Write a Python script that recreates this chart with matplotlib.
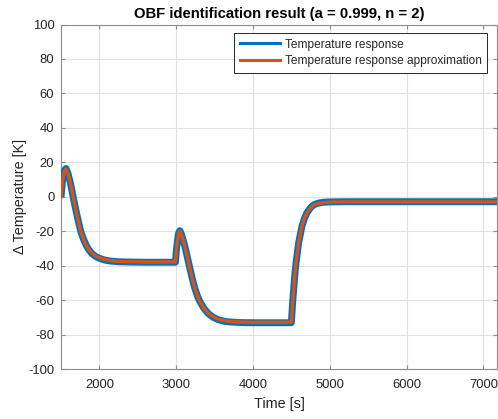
import matplotlib
matplotlib.use("Agg")
import matplotlib.pyplot as plt
from matplotlib.lines import Line2D

plt.rcParams['font.family'] = ['Liberation Sans', 'DejaVu Sans']
plt.rcParams['axes.unicode_minus'] = False

# Measured temperature response (time in s, delta temperature in K)
time_meas = [1500, 1520, 1540, 1565, 1590, 1621, 1664, 1700, 1730, 1760, 1795,
             1830, 1860, 1900, 1950, 1990, 2050, 2100, 2164, 2250, 2400, 2600,
             2990, 3000, 3015, 3030, 3047, 3065, 3090, 3112, 3140, 3177, 3210,
             3242, 3275, 3307, 3360, 3416, 3480, 3546, 3630, 3720, 3850, 4000,
             4499, 4515, 4529, 4545, 4560, 4594, 4638, 4670, 4703, 4750, 4789,
             4850, 4919, 5000, 5200, 7180]
temp_meas = [0.0, 9.5, 15.0, 16.5, 13.8, 8.4, -1.3, -9.0, -14.9, -20.5, -24.7,
             -28.2, -30.5, -32.8, -34.5, -35.4, -36.4, -36.9, -37.3, -37.6, -37.8, -37.9,
             -37.9, -32.0, -26.0, -21.3, -19.6, -21.3, -25.0, -28.5, -34.0, -41.2, -47.5,
             -52.9, -57.3, -60.6, -64.6, -67.6, -69.8, -71.2, -72.2, -72.6, -72.9, -73.0,
             -73.0, -62.0, -53.8, -45.0, -38.3, -26.6, -16.9, -12.5, -9.1, -6.2, -4.6,
             -3.6, -3.1, -2.9, -2.8, -2.8]

# Second-order OBF model approximation
time_model = [1500, 1520, 1540, 1565, 1590, 1621, 1664, 1700, 1730, 1760, 1795,
              1830, 1860, 1900, 1950, 1990, 2050, 2100, 2164, 2250, 2400, 2600,
              2990, 3000, 3015, 3030, 3047, 3065, 3090, 3112, 3140, 3177, 3210,
              3242, 3275, 3307, 3360, 3416, 3480, 3546, 3630, 3720, 3850, 4000,
              4499, 4515, 4529, 4545, 4560, 4594, 4638, 4670, 4703, 4750, 4789,
              4850, 4919, 5000, 5200, 7180]
temp_model = [0.0, 9.0, 14.5, 16.2, 13.5, 8.4, -1.3, -9.0, -14.9, -20.5, -24.7,
              -28.2, -30.5, -32.6, -34.2, -35.0, -36.0, -36.6, -37.0, -37.4, -37.6, -37.7,
              -37.7, -32.0, -26.0, -21.5, -19.8, -21.5, -25.0, -28.5, -34.0, -41.2, -47.5,
              -52.9, -57.3, -60.6, -64.6, -67.4, -69.5, -70.9, -71.8, -72.3, -72.6, -72.7,
              -72.7, -62.0, -53.8, -45.0, -38.3, -26.6, -16.9, -12.5, -9.1, -6.4, -4.8,
              -3.8, -3.3, -3.0, -2.9, -2.9]

series_labels = ["Temperature response", "Temperature response approximation"]
x_ticks = [2000, 3000, 4000, 5000, 6000, 7000]
y_ticks = list(range(-100, 101, 20))

blue = "#0072BD"
orange = "#D95319"
ink = "#262626"

fig = plt.figure(figsize=(4.98, 4.19), dpi=100)
ax = fig.add_axes([0.1225, 0.1186, 0.876, 0.8229])

ax.plot(time_meas, temp_meas, color=blue, lw=5.0, solid_joinstyle="round",
        solid_capstyle="butt", zorder=3)
ax.plot(time_model, temp_model, color=orange, lw=2.4, solid_joinstyle="round",
        zorder=4)

ax.set_xlim(1500, 7180)
ax.set_ylim(-100, 100)
ax.set_xticks(x_ticks)
ax.set_yticks(y_ticks)
ax.grid(True, color="#e1e1e1", lw=0.8)
ax.set_axisbelow(True)

for s in ax.spines.values():
    s.set_color("#8c8c8c")
    s.set_linewidth(0.8)
ax.tick_params(direction="in", length=3.2, width=0.8, color="#8c8c8c",
               labelcolor=ink, labelsize=9.4, top=True, right=True)
ax.tick_params(axis="x", pad=7)
ax.tick_params(axis="y", pad=4.8)

ax.set_xlabel("Time [s]", fontsize=10.4, color=ink, labelpad=4)
ax.set_ylabel("Δ Temperature [K]", fontsize=10.4, color=ink, labelpad=1)
ax.set_title("OBF identification result (a = 0.999, n = 2)", fontsize=10.7,
             fontweight="bold", color="black", pad=5)

handles = [Line2D([], [], color=blue, lw=2.2), Line2D([], [], color=orange, lw=2.2)]
leg = ax.legend(handles, series_labels, loc="upper right",
                bbox_to_anchor=(0.977, 0.975), borderaxespad=0,
                fontsize=8.6, handlelength=3.4, handletextpad=0.4,
                labelspacing=0.4, borderpad=0.45, fancybox=False,
                framealpha=1, edgecolor=ink)
leg.get_frame().set_linewidth(0.7)
for t in leg.get_texts():
    t.set_color(ink)

fig.savefig("out.png", dpi=100)
